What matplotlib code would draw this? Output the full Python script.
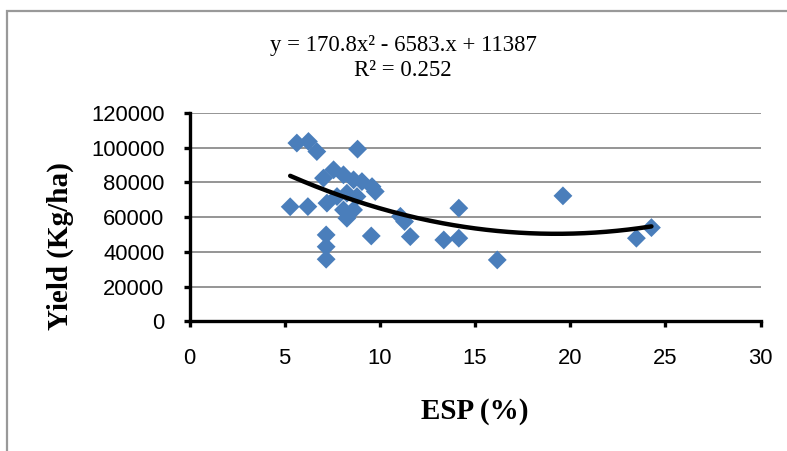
import numpy as np
import matplotlib
matplotlib.use("Agg")
import matplotlib.pyplot as plt
from matplotlib.patches import Rectangle

# ---- data ----
esp = [5.29, 5.64, 6.25, 6.69, 6.22, 7.04, 7.57, 8.09, 8.62, 9.06, 9.59, 9.76,
       7.22, 7.75, 8.27, 8.80, 8.09, 8.62, 8.27, 8.83, 7.18, 7.18, 7.18, 9.55,
       11.08, 11.30, 11.60, 13.36, 14.15, 14.15, 16.17, 19.62, 23.48, 24.27]
yield_kg = [66000, 102700, 103600, 97800, 66100, 82500, 87300, 84400, 81500, 80500, 77600, 74800,
            68100, 71900, 73800, 71900, 64200, 64200, 59400, 99200, 49800, 43000, 35800, 49200,
            60500, 57500, 48800, 46900, 65200, 47900, 35400, 72300, 47900, 54000]
trend_coef = [170.8, -6583.0, 113870.0]   # quadratic trendline coefficients
eq_lines = ["y = 170.8x\u00b2 - 6583.x + 11387", "R\u00b2 = 0.252"]
x_ticks = [0, 5, 10, 15, 20, 25, 30]
y_ticks = [0, 20000, 40000, 60000, 80000, 100000, 120000]
x_label = "ESP (%)"
y_label = "Yield (Kg/ha)"

W, H = 787, 451
fig = plt.figure(figsize=(W / 100, H / 100), dpi=100)
fig.patch.set_facecolor("white")

# outer chart-area border (extends past the right/bottom edges)
fig.patches.append(Rectangle((7 / W, -0.1), 1.2, 1 - 11 / H + 0.1,
                             transform=fig.transFigure, fill=False,
                             edgecolor="#999999", linewidth=1.6))

x0, x1 = 189.5, 760.5
y0, y1 = 321.4, 113.0
ax = fig.add_axes([x0 / W, 1 - y0 / H, (x1 - x0) / W, (y0 - y1) / H])
ax.set_facecolor("none")

ax.set_xlim(0, 30)
ax.set_ylim(0, 120000)
ax.set_xticks(x_ticks)
ax.set_yticks(y_ticks)
ax.set_xticklabels([str(t) for t in x_ticks])
ax.set_yticklabels([str(t) for t in y_ticks])

ax.yaxis.grid(True, color="#8c8c8c", linewidth=1.3)
ax.set_axisbelow(True)
for s in ["top", "right"]:
    ax.spines[s].set_visible(False)
for s in ["left", "bottom"]:
    ax.spines[s].set_linewidth(2.4)
    ax.spines[s].set_color("black")
ax.tick_params(axis="both", direction="out", length=4, width=2.4, color="black",
               labelsize=15.8, labelcolor="black")
ax.tick_params(axis="x", pad=15)
ax.tick_params(axis="y", pad=14)
for lab in ax.get_xticklabels() + ax.get_yticklabels():
    lab.set_fontfamily(["Liberation Sans", "DejaVu Sans"])

ax.scatter(esp, yield_kg, marker="D", s=9.6 ** 2, color="#4a7ebb",
           edgecolors="none", zorder=3, clip_on=False)

xs = np.linspace(min(esp), max(esp), 200)
ax.plot(xs, np.polyval(trend_coef, xs), color="black", linewidth=3.2,
        solid_capstyle="round", zorder=4)

serif = ["Liberation Serif", "DejaVu Serif"]
ax.set_xlabel(x_label, fontsize=21, fontweight="bold", family=serif, labelpad=21)
ax.set_ylabel(y_label, fontsize=21, fontweight="bold", family=serif)
ax.yaxis.label.set_va("center")
ax.yaxis.set_label_coords((60 - x0) / (x1 - x0), (y0 - 246) / (y0 - y1))

fig.text(403 / W, 1 - 46 / H, eq_lines[0], ha="center", va="center",
         fontsize=16.4, family=serif)
fig.text(403 / W, 1 - 71 / H, eq_lines[1], ha="center", va="center",
         fontsize=16.4, family=serif)

fig.savefig("out.png", dpi=100, facecolor="white")
